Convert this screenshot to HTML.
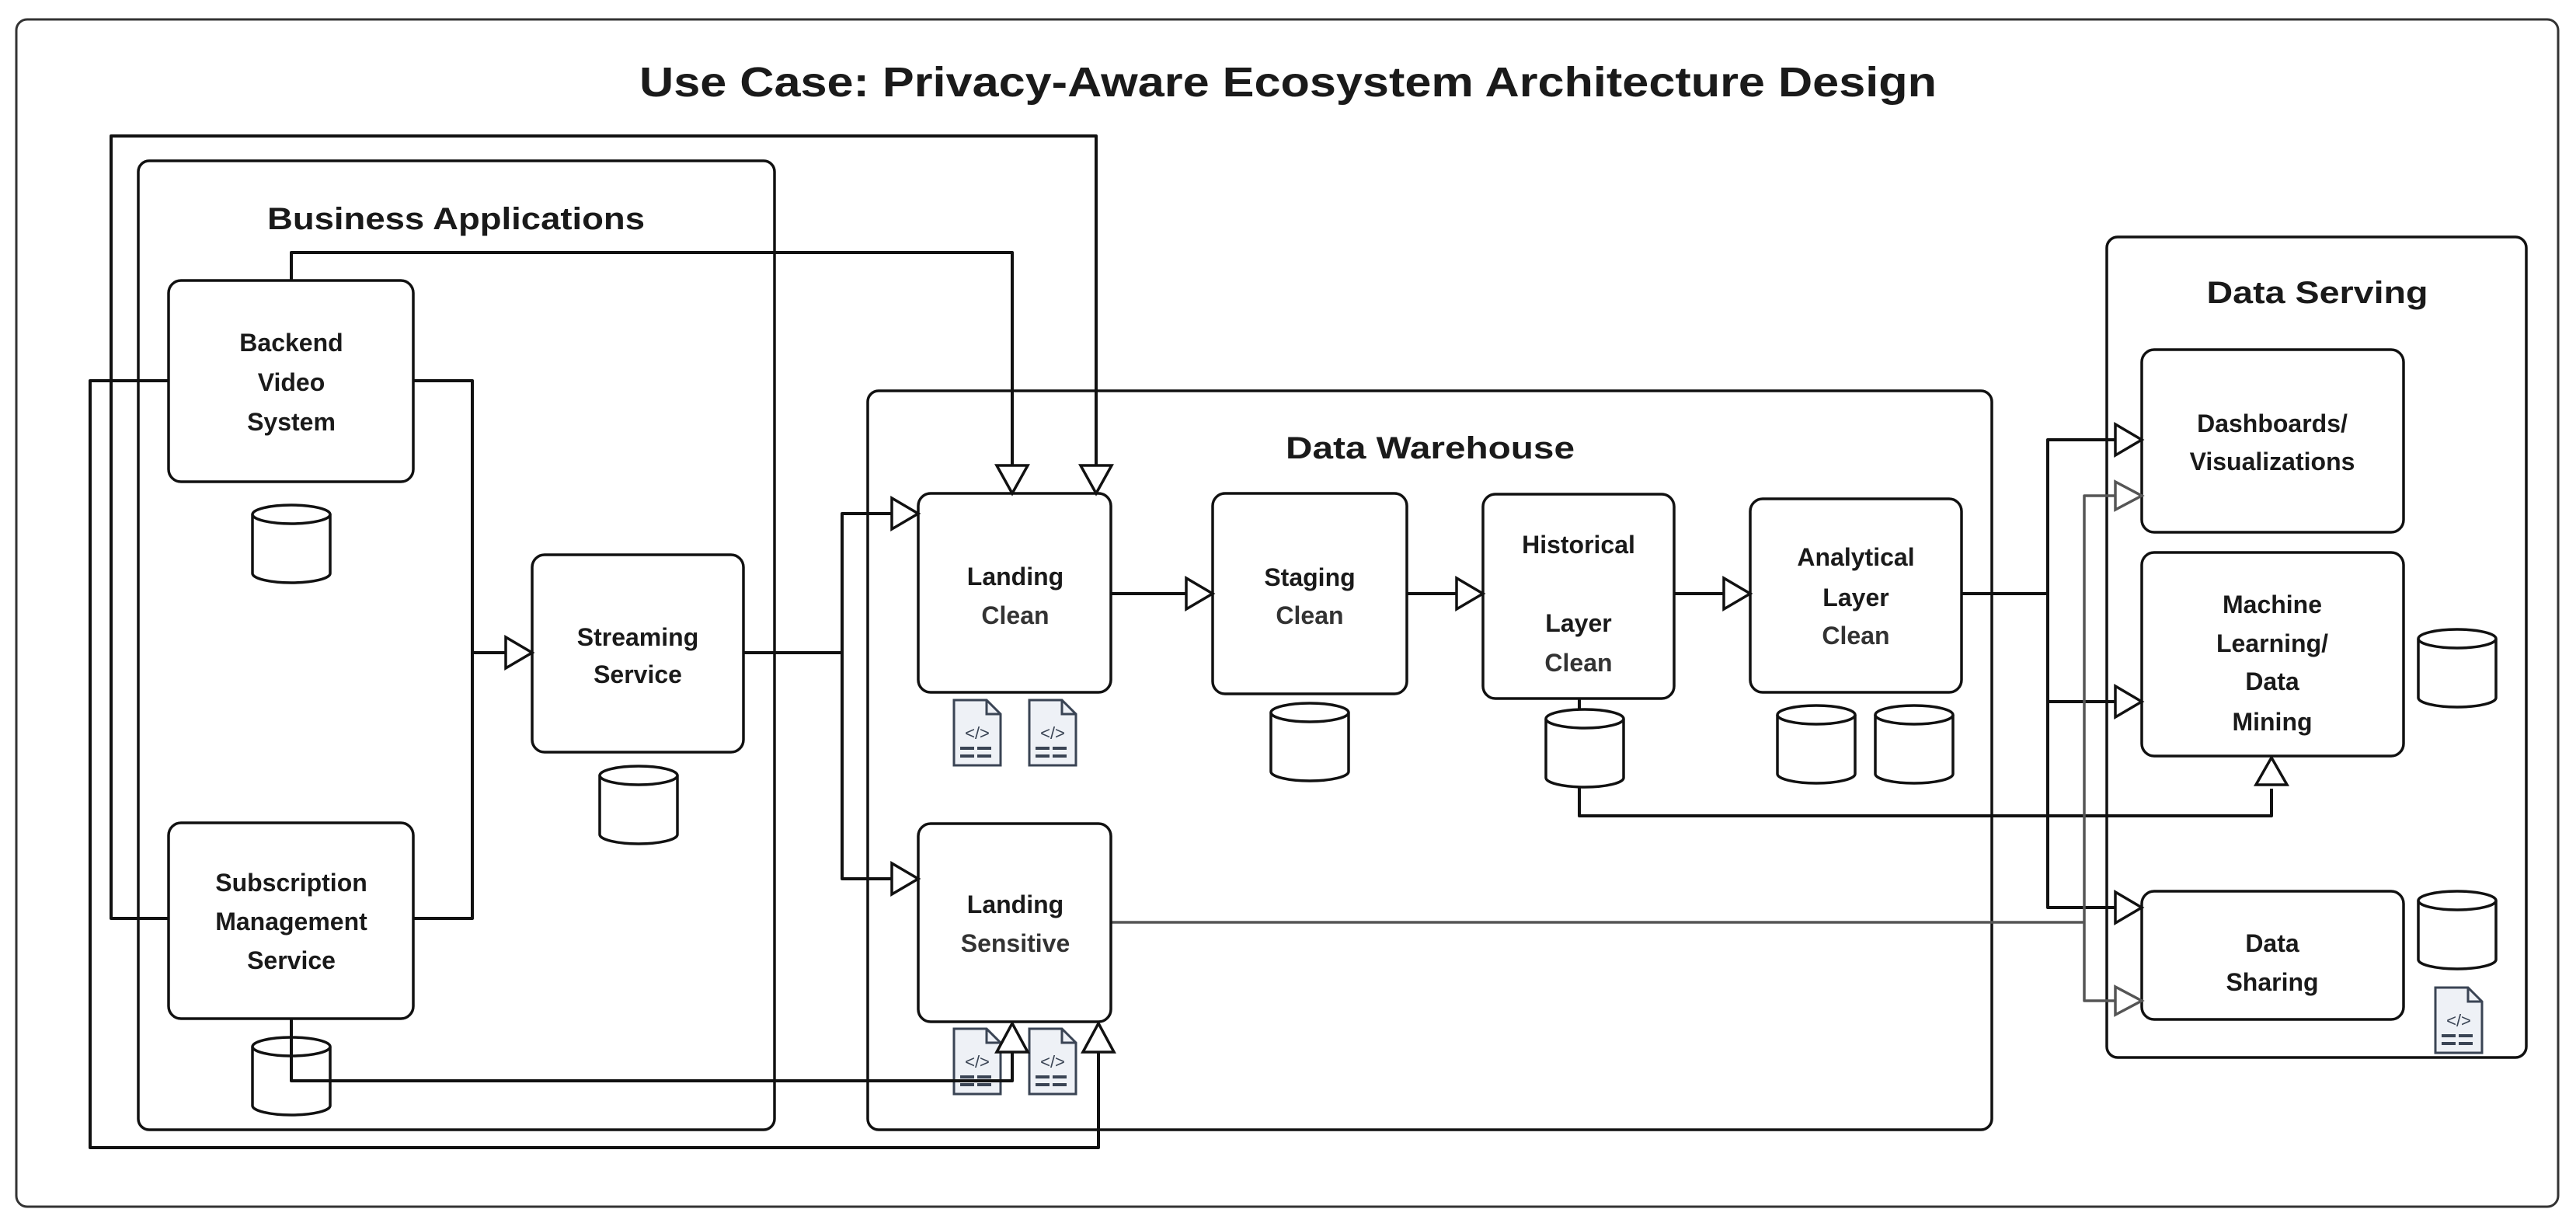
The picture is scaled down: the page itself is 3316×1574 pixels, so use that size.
<!DOCTYPE html>
<html><head><meta charset="utf-8"><style>
html,body{margin:0;padding:0;background:#fff;}
svg{display:block;}
text{font-family:"Liberation Sans",sans-serif;font-weight:bold;fill:#1a1a1a;}
</style></head><body>
<svg width="3316" height="1574" viewBox="0 0 3316 1574" xmlns="http://www.w3.org/2000/svg">
<defs>
<g id="cyl">
<path d="M0,12 V88 A50,12 0 0 0 100,88 V12" fill="#fff" stroke="#111" stroke-width="3.5"/>
<ellipse cx="50" cy="12" rx="50" ry="12" fill="#fff" stroke="#111" stroke-width="3.5"/>
</g>
<g id="doc">
<path d="M2,2 H44 L62,20 V86 H2 Z" fill="#eef1f6" stroke="#3a4454" stroke-width="3"/>
<path d="M44,2 V20 H62" fill="none" stroke="#3a4454" stroke-width="3"/>
<text x="32" y="52" font-size="22" text-anchor="middle" style="fill:#3a4454;font-weight:normal">&lt;/&gt;</text>
<path d="M10,64 H54 M10,74 H54" stroke="#3a4454" stroke-width="4" stroke-dasharray="18,4"/>
</g>
</defs>

<!-- outer frame -->
<rect x="21" y="25" width="3272" height="1528" rx="14" fill="#fff" stroke="#333" stroke-width="3"/>
<text x="1658" y="124" font-size="54" text-anchor="middle" textLength="1670" lengthAdjust="spacingAndGlyphs">Use Case: Privacy-Aware Ecosystem Architecture Design</text>

<!-- group boxes -->
<rect x="178" y="207" width="819" height="1247" rx="14" fill="none" stroke="#111" stroke-width="3.5"/>
<text x="587" y="295" font-size="40" text-anchor="middle" textLength="486" lengthAdjust="spacingAndGlyphs">Business Applications</text>
<rect x="1117" y="503" width="1447" height="951" rx="14" fill="none" stroke="#111" stroke-width="3.5"/>
<text x="1841" y="590" font-size="40" text-anchor="middle" textLength="372" lengthAdjust="spacingAndGlyphs">Data Warehouse</text>
<rect x="2712" y="305" width="540" height="1056" rx="14" fill="none" stroke="#111" stroke-width="3.5"/>
<text x="2983" y="390" font-size="40" text-anchor="middle" textLength="285" lengthAdjust="spacingAndGlyphs">Data Serving</text>

<!-- connectors -->
<g fill="none" stroke="#111" stroke-width="4" stroke-linejoin="round">
<path d="M375,361 V325 H1303 V599"/>
<path d="M217,1182 H143 V175 H1411 V599"/>
<path d="M217,490 H116 V1477 H1414 V1354"/>
<path d="M532,490 H608 V1182 H532 M608,840 H651"/>
<path d="M957,840 H1084 V661 H1148 M1084,840 V1131 H1148"/>
<path d="M1430,764 H1527 M1811,764 H1875 M2155,764 H2219"/>
<path d="M2033,899 V916"/>
<path d="M2033,1011 V1050 H2924 V1015"/>
<path d="M2525,764 H2636 V566 H2723 M2636,764 V1168 H2723 M2636,903 H2723"/>
</g>
<g fill="none" stroke="#555" stroke-width="3.5" stroke-linejoin="round">
<path d="M1430,1187 H2683 V638 H2723 M2683,1187 V1288 H2723"/>
</g>

<!-- nodes -->
<g fill="#fff" stroke="#111" stroke-width="3.5">
<rect x="217" y="361" width="315" height="259" rx="16"/>
<rect x="217" y="1059" width="315" height="252" rx="16"/>
<rect x="685" y="714" width="272" height="254" rx="16"/>
<rect x="1182" y="635" width="248" height="256" rx="16"/>
<rect x="1182" y="1060" width="248" height="255" rx="16"/>
<rect x="1561" y="635" width="250" height="258" rx="16"/>
<rect x="1909" y="636" width="246" height="263" rx="16"/>
<rect x="2253" y="642" width="272" height="249" rx="16"/>
<rect x="2757" y="450" width="337" height="235" rx="16"/>
<rect x="2757" y="711" width="337" height="262" rx="16"/>
<rect x="2757" y="1147" width="337" height="165" rx="16"/>
</g>

<!-- cylinders -->
<use href="#cyl" transform="translate(325,650)"/>
<use href="#cyl" transform="translate(772,986)"/>
<use href="#cyl" transform="translate(325,1335)"/>
<use href="#cyl" transform="translate(1636,905)"/>
<use href="#cyl" transform="translate(1990,913)"/>
<use href="#cyl" transform="translate(2288,908)"/>
<use href="#cyl" transform="translate(2414,908)"/>
<use href="#cyl" transform="translate(3113,810)"/>
<use href="#cyl" transform="translate(3113,1147)"/>

<!-- docs -->
<use href="#doc" transform="translate(1226,899)"/>
<use href="#doc" transform="translate(1323,899)"/>
<use href="#doc" transform="translate(1226,1322)"/>
<use href="#doc" transform="translate(1323,1322)"/>
<use href="#doc" transform="translate(3133,1269)"/>

<!-- subscription bottom connector over cylinder -->
<path d="M375,1311 V1391 H1303 V1354" fill="none" stroke="#111" stroke-width="4" stroke-linejoin="round"/>

<!-- arrowheads -->
<g fill="#fff" stroke="#111" stroke-width="3.5" stroke-linejoin="miter">
<polygon points="1283,599 1303,635 1323,599"/>
<polygon points="1391,599 1411,635 1431,599"/>
<polygon points="1283,1354 1303,1317 1323,1354"/>
<polygon points="1394,1354 1414,1317 1434,1354"/>
<polygon points="651,820 685,840 651,860"/>
<polygon points="1148,641 1182,661 1148,681"/>
<polygon points="1148,1111 1182,1131 1148,1151"/>
<polygon points="1527,744 1561,764 1527,784"/>
<polygon points="1875,744 1909,764 1875,784"/>
<polygon points="2219,744 2253,764 2219,784"/>
<polygon points="2723,546 2757,566 2723,586"/>
<polygon points="2723,883 2757,903 2723,923"/>
<polygon points="2723,1148 2757,1168 2723,1188"/>
<polygon points="2904,1010 2924,975 2944,1010"/>
</g>
<g fill="#fff" stroke="#555" stroke-width="3.5">
<polygon points="2723,620 2757,638 2723,656"/>
<polygon points="2723,1270 2757,1288 2723,1306"/>
</g>

<!-- labels -->
<g font-size="32" text-anchor="middle">
<text x="375" y="452">Backend</text>
<text x="375" y="503">Video</text>
<text x="375" y="554">System</text>
<text x="375" y="1147">Subscription</text>
<text x="375" y="1197">Management</text>
<text x="375" y="1247">Service</text>
<text x="821" y="831">Streaming</text>
<text x="821" y="879">Service</text>
<text x="1307" y="753">Landing</text>
<text x="1307" y="803" style="fill:#333">Clean</text>
<text x="1307" y="1175">Landing</text>
<text x="1307" y="1225" style="fill:#333">Sensitive</text>
<text x="1686" y="754">Staging</text>
<text x="1686" y="803" style="fill:#333">Clean</text>
<text x="2032" y="712">Historical</text>
<text x="2032" y="813">Layer</text>
<text x="2032" y="864" style="fill:#333">Clean</text>
<text x="2389" y="728">Analytical</text>
<text x="2389" y="780">Layer</text>
<text x="2389" y="829" style="fill:#333">Clean</text>
<text x="2925" y="556">Dashboards/</text>
<text x="2925" y="605">Visualizations</text>
<text x="2925" y="789">Machine</text>
<text x="2925" y="839">Learning/</text>
<text x="2925" y="888">Data</text>
<text x="2925" y="940">Mining</text>
<text x="2925" y="1225">Data</text>
<text x="2925" y="1275">Sharing</text>
</g>
</svg>
</body></html>
